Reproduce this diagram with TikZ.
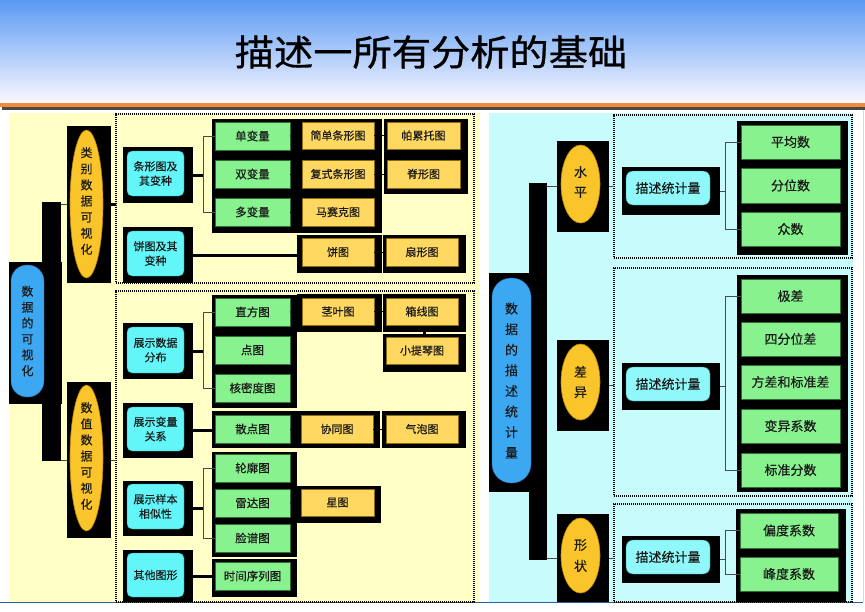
\documentclass[tikz,border=0pt]{standalone}
\usepackage{fontspec}
\usepackage{graphicx}
\setmainfont{Noto Sans CJK SC}[FakeBold=0.3]
\newfontfamily\titlefont{Noto Sans CJK SC}[FakeBold=0.8]
\usetikzlibrary{shapes.geometric}
\definecolor{lbg}{HTML}{FFFFC6}
\definecolor{rbg}{HTML}{C8FCFC}
\definecolor{gr}{HTML}{88F28E}
\definecolor{grd}{HTML}{2F6F35}
\definecolor{yl}{HTML}{FFD862}
\definecolor{yld}{HTML}{8C6A10}
\definecolor{cyn}{HTML}{62F6F8}
\definecolor{cynl}{HTML}{90F8FA}
\definecolor{cynd}{HTML}{2A8A8C}
\definecolor{blu}{HTML}{3CA8F2}
\definecolor{blud}{HTML}{1F6FB0}
\definecolor{org}{HTML}{FAC42B}
\definecolor{orgd}{HTML}{C08A00}
\definecolor{orl}{HTML}{F08A3C}
\definecolor{gl}{HTML}{4A4A4A}
\definecolor{txt}{HTML}{1A1A1A}
\definecolor{ttop}{HTML}{5A9AF3}
\definecolor{tmid}{HTML}{9CC8F7}
\definecolor{tbot}{HTML}{FBF8FF}
\definecolor{bline}{HTML}{2F5F9F}
\newcommand\bk[5]{\node[blkst, minimum width={#4-#2}, minimum height={#5-#3}] (#1) at ({(#2+#4)/2},{(#3+#5)/2}) {};}
\newcommand\bx[7]{\node[#1, minimum width={#5-#3}, minimum height={#6-#4}] (#2) at ({(#3+#5)/2},{(#4+#6)/2}) {#7};}
\begin{document}
\begin{tikzpicture}[x=1pt,y=-1pt,
  blkst/.style={fill=black, draw=none, inner sep=0pt, outer sep=0pt},
  gbox/.style={fill=gr, draw=grd, line width=0.6pt, inner sep=0pt, outer sep=0pt, text=txt, font=\fontsize{11.5}{14}\selectfont},
  rgbox/.style={gbox, font=\fontsize{13}{15}\selectfont},
  ybox/.style={fill=yl, draw=yld, line width=0.6pt, inner sep=0pt, outer sep=0pt, text=txt, font=\fontsize{11}{14}\selectfont},
  cbox/.style={fill=cyn, draw=cynd, line width=0.4pt, rounded corners=5pt, inner sep=0pt, outer sep=0pt, align=center, text=txt, font=\fontsize{11}{14.5}\selectfont},
  clbox/.style={fill=cynl, draw=cynd, line width=0.4pt, rounded corners=7pt, inner sep=0pt, outer sep=0pt, text=txt, font=\fontsize{13}{15}\selectfont},
  ell/.style={ellipse, fill=org, draw=orgd, line width=0.6pt, inner sep=0pt, outer sep=0pt},
  pillst/.style={fill=blu, draw=blud, line width=0.4pt, inner sep=0pt, outer sep=0pt},
  dbox/.style={draw=black, line width=1.2pt, dash pattern=on 1.2pt off 0.8pt, inner sep=0pt, outer sep=0pt},
  vtxt/.style={align=center, inner sep=0pt, text=txt},
  conn/.style={draw=gl, line width=1pt},
  thickc/.style={draw=black, line width=3pt},
  brk/.style={draw=gl, line width=0.9pt}
]
\useasboundingbox (0,0) rectangle (865,611);
\fill[white] (0,0) rectangle (865,611);
% title band
\shade[top color=ttop, middle color=tmid, bottom color=tbot] (0,0) rectangle (865,103);
\fill[orl] (0,103) rectangle (865,106.5);
\fill[gl] (2,106.5) rectangle (865,110);
\node[text=black, inner sep=0pt] (title) at (431,52) {\titlefont\fontsize{36}{38}\selectfont\scalebox{1.09}[1]{描述一所有分析的基础}};
% panels
\fill[lbg] (9,113) rectangle (479,602);
\fill[rbg] (489,113) rectangle (853,602);
\draw[bline, line width=0.8pt] (0,602.6) -- (863,602.6);
\draw[black!15, line width=0.6pt] (863,110) -- (863,602);

% ===== LEFT =====
\node[dbox, minimum width={474-116}, minimum height={283-114}] (d1) at ({(116+474)/2},{(114+283)/2}) {};
\node[dbox, minimum width={474-116}, minimum height={602-291}] (d2) at ({(116+474)/2},{(291+602)/2}) {};
\coordinate (brL) at (203,0);

\bk{rtb}{9}{262}{62}{404}
\bk{lbar}{42}{202}{61}{461}
\node[pillst, rounded corners=16pt, minimum width=33, minimum height=132] (rt) at (27.5,331) {};
\node[vtxt, font=\fontsize{12}{15.9}\selectfont] (rtt) at (rt) {数\\据\\的\\可\\视\\化};

\bk{e1b}{67}{126}{111}{283}
\bx{ell}{e1}{70}{130}{103}{278}{}
\node[vtxt, font=\fontsize{12}{16.1}\selectfont] (e1t) at (86.5,201) {类\\别\\数\\据\\可\\视\\化};
\bk{e2b}{67}{382}{111}{538}
\bx{ell}{e2}{70}{385}{103}{531}{}
\node[vtxt, font=\fontsize{12}{16.1}\selectfont] (e2t) at (86.5,456) {数\\值\\数\\据\\可\\视\\化};

\draw[conn] (e1b.west) -- (e1b.west -| lbar.east);
\draw[conn] (e2b.west) -- (e2b.west -| lbar.east);
\draw[thickc] (e1b.east) -- (e1b.east -| d1.west);
\draw[conn] (e2b.east) -- (e2b.east -| d2.west);

% bar charts
\bk{c1b}{123}{147}{193}{203}
\bx{cbox}{c1}{127}{151}{184}{196}{条形图及\\其变种}
\bk{gb1}{212}{119}{297}{233}
\bx{gbox}{g11}{215}{122}{290}{150}{单变量}
\bx{gbox}{g12}{215}{160}{290}{188}{双变量}
\bx{gbox}{g13}{215}{198}{290}{226}{多变量}
\bk{yb1}{297}{119}{382}{233}
\bx{ybox}{y11}{302}{122}{374}{149}{简单条形图}
\bx{ybox}{y12}{302}{160}{374}{188}{复式条形图}
\bx{ybox}{y13}{302}{198}{374}{226}{马赛克图}
\bk{yb2}{384}{119}{468}{194}
\bx{ybox}{y21}{387}{122}{460}{149}{帕累托图}
\bx{ybox}{y22}{387}{160}{460}{188}{脊形图}
\draw[thickc] (c1b.east) -- (c1b.east -| brL);
\draw[brk] (g11.west) -- (g11.west -| brL) -- (g13.west -| brL) -- (g13.west);
\draw[black, line width=0.6pt] (g11.east) -- (y11.west);
\draw[black, line width=0.6pt] (g12.east) -- (y12.west);
\draw[black, line width=0.6pt] (g13.east) -- (y13.west);
\draw[black, line width=0.6pt] (y11.east) -- (y21.west);
\draw[black, line width=0.6pt] (y12.east) -- (y22.west);

% pie charts
\bk{c2b}{123}{227}{193}{283}
\bx{cbox}{c2}{127}{231}{184}{276}{饼图及其\\变种}
\bk{pb1}{297}{235}{382}{273}
\bx{ybox}{p1}{302}{238}{374}{266}{饼图}
\bk{pb2}{383}{235}{466}{273}
\bx{ybox}{p2}{386}{238}{458}{266}{扇形图}
\draw[thickc] (c2b.east) -- (c2b.east -| pb1.west);
\draw[black, line width=0.6pt] (p1.east) -- (p2.west);

% distribution
\bk{c3b}{123}{323}{193}{379}
\bx{cbox}{c3}{127}{327}{184}{373}{展示数据\\分布}
\bk{gb3}{212}{295}{297}{408}
\bx{gbox}{g31}{215}{298}{290}{326}{直方图}
\bx{gbox}{g32}{215}{336}{290}{364}{点图}
\bx{gbox}{g33}{215}{374}{290}{402}{核密度图}
\bk{qb}{297}{294}{382}{332}
\bx{ybox}{q1}{302}{298}{374}{325}{茎叶图}
\bk{xb}{383}{294}{466}{332}
\bx{ybox}{x1}{386}{298}{458}{325}{箱线图}
\bk{tb}{383}{334}{466}{372}
\bx{ybox}{t1}{386}{337}{458}{364}{小提琴图}
\draw[thickc] (c3b.east) -- (c3b.east -| brL);
\draw[brk] (g31.west) -- (g31.west -| brL) -- (g33.west -| brL) -- (g33.west);
\draw[black, line width=0.6pt] (g31.east) -- (q1.west);
\draw[black, line width=0.6pt] (q1.east) -- (x1.west);
\draw[thickc] (xb.south) -- (tb.north);

% relations
\bk{c4b}{123}{403}{193}{458}
\bx{cbox}{c4}{127}{407}{184}{451}{展示变量\\关系}
\bk{sb}{212}{411}{380}{448}
\bx{gbox}{s1}{215}{415}{290}{443}{散点图}
\bx{ybox}{s2}{301}{415}{373}{443}{协同图}
\bk{bb}{382}{411}{466}{448}
\bx{ybox}{b1}{386}{415}{458}{443}{气泡图}
\draw[thickc] (c4b.east) -- (c4b.east -| sb.west);
\draw[black, line width=0.6pt] (s1.east) -- (s2.west);
\draw[black, line width=0.6pt] (s2.east) -- (b1.west);

% similarity
\bk{c5b}{123}{481}{193}{536}
\bx{cbox}{c5}{127}{484}{184}{529}{展示样本\\相似性}
\bk{gb5}{212}{452}{297}{557}
\bx{gbox}{g51}{215}{454}{290}{482}{轮廓图}
\bx{gbox}{g52}{215}{489}{290}{517}{雷达图}
\bx{gbox}{g53}{215}{524}{290}{552}{脸谱图}
\bk{xxb}{297}{486}{381}{523}
\bx{ybox}{xx1}{301}{489}{374}{516}{星图}
\draw[thickc] (c5b.east) -- (c5b.east -| brL);
\draw[brk] (g51.west) -- (g51.west -| brL) -- (g53.west -| brL) -- (g53.west);
\draw[black, line width=0.6pt] (g52.east) -- (xx1.west);

% other
\bk{c6b}{123}{550}{193}{602}
\bx{cbox}{c6}{127}{553}{184}{597}{其他图形}
\bk{tsb}{212}{559}{297}{597}
\bx{gbox}{ts1}{215}{562}{290}{590}{时间序列图}
\draw[thickc] (c6b.east) -- (c6b.east -| tsb.west);

% ===== RIGHT =====
\node[dbox, minimum width={852-614}, minimum height={258-115}] (r1) at ({(614+852)/2},{(115+258)/2}) {};
\node[dbox, minimum width={852-614}, minimum height={496-268}] (r2) at ({(614+852)/2},{(268+496)/2}) {};
\node[dbox, minimum width={852-614}, minimum height={602-504}] (r3) at ({(614+852)/2},{(504+602)/2}) {};
\coordinate (brR) at (725,0);

\bk{rrb}{489}{273}{529}{492}
\bk{rbar}{529}{183}{547}{560}
\node[pillst, rounded corners=19pt, minimum width=39, minimum height=205] (rr) at (511.5,380.5) {};
\node[vtxt, font=\fontsize{13}{20.6}\selectfont] (rrt) at (rr) {数\\据\\的\\描\\述\\统\\计\\量};

\bk{spb}{557}{141}{609}{232}
\bx{ell}{sp}{561}{145}{600}{223}{}
\node[vtxt, font=\fontsize{13}{20}\selectfont] (spt) at (580.5,182) {水\\平};
\bk{cyb}{557}{340}{609}{431}
\bx{ell}{cyy}{561}{344}{600}{420}{}
\node[vtxt, font=\fontsize{13}{20}\selectfont] (cyt) at (580.5,382) {差\\异};
\bk{xzb}{557}{514}{609}{602}
\bx{ell}{xz}{561}{518}{600}{593}{}
\node[vtxt, font=\fontsize{13}{21}\selectfont] (xzt) at (580.5,555.5) {形\\状};

\draw[conn] (spb.west) -- (spb.west -| rbar.east);
\draw[conn] (xzb.west) -- (xzb.west -| rbar.east);
\draw[conn] (spb.east) -- (spb.east -| r1.west);
\draw[conn] (cyb.east) -- (cyb.east -| r2.west);
\draw[conn] (xzb.east) -- (xzb.east -| r3.west);

\bk{d1b}{622}{167}{720}{215}
\bx{clbox}{d1c}{626}{171}{710}{205}{描述统计量}
\bk{d2b}{622}{363}{720}{410}
\bx{clbox}{d2c}{626}{367}{710}{401}{描述统计量}
\bk{d3b}{622}{536}{720}{583}
\bx{clbox}{d3c}{626}{540}{710}{574}{描述统计量}

\bk{mb1}{737}{121}{848}{255}
\bx{rgbox}{m11}{741}{125}{840}{159}{平均数}
\bx{rgbox}{m12}{741}{168}{840}{203}{分位数}
\bx{rgbox}{m13}{741}{212}{840}{246}{众数}
\bk{mb2}{737}{275}{848}{492}
\bx{rgbox}{m21}{741}{279}{840}{313}{极差}
\bx{rgbox}{m22}{741}{322}{840}{356}{四分位差}
\bx{rgbox}{m23}{741}{365}{840}{399}{方差和标准差}
\bx{rgbox}{m24}{741}{409}{840}{443}{变异系数}
\bx{rgbox}{m25}{741}{453}{840}{487}{标准分数}
\bk{mb3}{736}{509}{846}{602}
\bx{rgbox}{m31}{740}{513}{838}{548}{偏度系数}
\bx{rgbox}{m32}{740}{557}{838}{591}{峰度系数}

\draw[brk] (d1b.east) -- (d1b.east -| brR);
\draw[brk] (m11.west) -- (m11.west -| brR) -- (m13.west -| brR) -- (m13.west);
\draw[brk] (d2b.east) -- (d2b.east -| brR);
\draw[brk] (m21.west) -- (m21.west -| brR) -- (m25.west -| brR) -- (m25.west);
\draw[brk] (d3b.east) -- (d3b.east -| brR);
\draw[brk] (m31.west) -- (m31.west -| brR) -- (m32.west -| brR) -- (m32.west);
\end{tikzpicture}
\end{document}
